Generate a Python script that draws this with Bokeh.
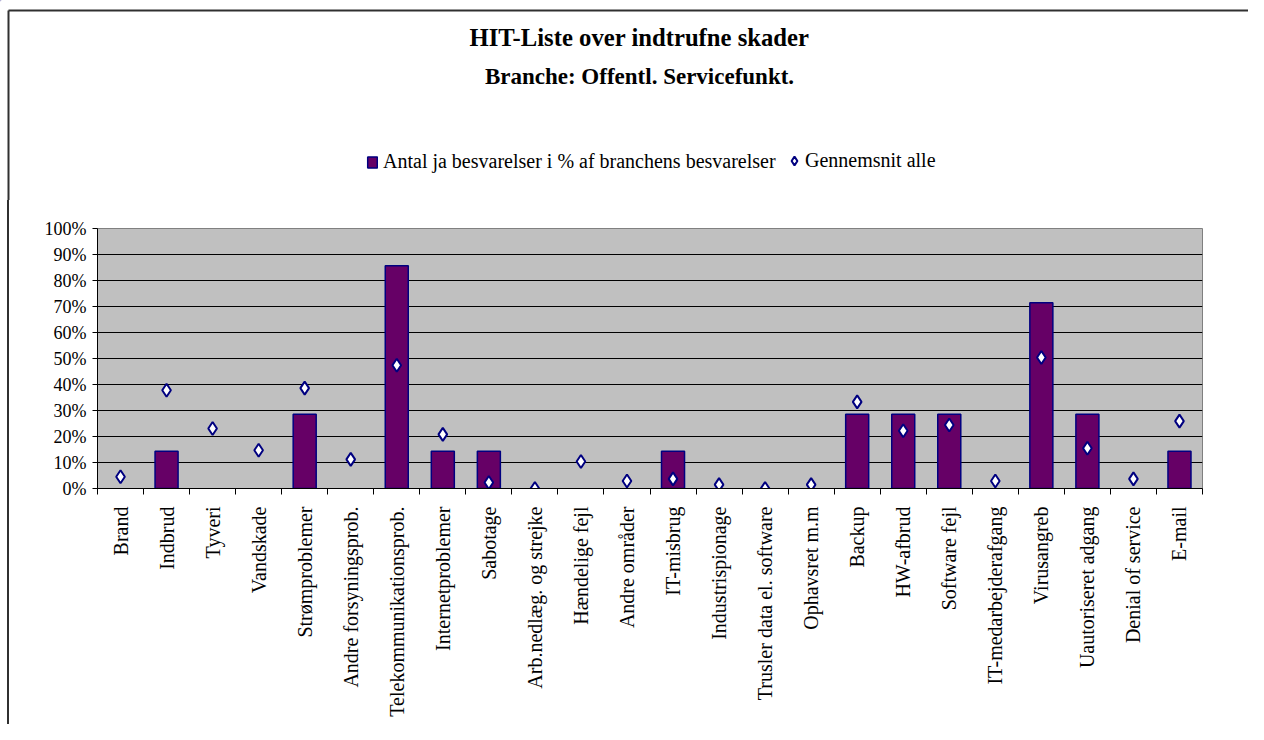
import math
from bokeh.plotting import figure
from bokeh.layouts import column
from bokeh.models import (ColumnDataSource, FixedTicker, PrintfTickFormatter, Label,
                          Legend, LegendItem, Range1d)
from bokeh.embed import file_html
from bokeh.resources import INLINE

categories = ["Brand", "Indbrud", "Tyveri", "Vandskade", "Strømproblemer",
              "Andre forsyningsprob.", "Telekommunikationsprob.", "Internetproblemer",
              "Sabotage", "Arb.nedlæg. og strejke", "Hændelige fejl", "Andre områder",
              "IT-misbrug", "Industrispionage", "Trusler data el. software", "Ophavsret m.m",
              "Backup", "HW-afbrud", "Software fejl", "IT-medarbejderafgang", "Virusangreb",
              "Uautoriseret adgang", "Denial of service", "E-mail"]
branch_pct = [0, 14.3, 0, 0, 28.6, 0, 85.7, 14.3, 14.3, 0, 0, 0, 14.3, 0, 0, 0,
              28.6, 28.6, 28.6, 0, 71.4, 28.6, 0, 14.3]
avg_pct = [4.5, 37.8, 23.1, 14.7, 38.6, 11.2, 47.4, 20.8, 2.3, 0.0, 10.4, 2.9,
           3.7, 1.5, 0.0, 1.5, 33.3, 22.2, 24.4, 2.9, 50.4, 15.5, 3.7, 25.9]
y_ticks = [0, 10, 20, 30, 40, 50, 60, 70, 80, 90, 100]
title_lines = ["HIT-Liste over indtrufne skader", "Branche: Offentl. Servicefunkt."]
legend_labels = ["Antal ja besvarelser i % af branchens besvarelser", "Gennemsnit alle"]

FONT = "Liberation Serif"
BAR_FILL, BAR_LINE = "#660066", "#000080"
EDGE = "#303030"
W, H = 1248, 724
HT = 200                      # header height (titles + legend)
TOP = 28                      # space above the plot frame in the chart figure
FL, FW, FH = 97, 1105, 260    # plot frame left / width / height

n = len(categories)
xs = list(range(n))
bar_src = ColumnDataSource(dict(
    x=[i for i in xs if branch_pct[i] > 0],
    top=[branch_pct[i] for i in xs if branch_pct[i] > 0]))
avg_src = ColumnDataSource(dict(x=xs, y=avg_pct))

# ---------------- header: titles + legend ----------------
hdr = figure(width=W, height=HT, output_backend="svg", toolbar_location=None,
             title_location=None, x_range=Range1d(0, W), y_range=Range1d(HT, 0),
             x_axis_type=None, y_axis_type=None,
             min_border=0, min_border_left=0, min_border_right=0,
             min_border_top=0, min_border_bottom=0)
hdr.outline_line_color = None
hdr.background_fill_alpha = 0
hdr.border_fill_alpha = 0
OFF = 0
try:
    hdr.frame_align = False       # keep the header frame over its whole canvas
except Exception:
    OFF = FL

# outer chart border (top edge and upper part of the left edge)
hdr.segment(x0=[8 - OFF, 8 - OFF], y0=[10, 10], x1=[W + 20, 8 - OFF], y1=[10, HT + 20],
            line_color=EDGE, line_width=2)

for txt, yc, fs in ((title_lines[0], 37, "24.7px"), (title_lines[1], 76, "23px")):
    hdr.add_layout(Label(x=639 - OFF, y=HT - yc, x_units="screen", y_units="screen",
                         text=txt, text_font=FONT, text_font_style="bold",
                         text_font_size=fs, text_align="center", text_baseline="middle",
                         text_color="black"))

# legend-only renderers (their single point lies outside the header's range)
dummy_bar = hdr.vbar(x=[-50], top=[-50], width=1, bottom=-60, fill_color=BAR_FILL,
                     line_color=BAR_LINE, line_width=1.5)
dummy_dot = hdr.scatter(x=[-50], y=[-50], marker="diamond", size=13, fill_color="white",
                        line_color=BAR_LINE, line_width=2)
common = dict(orientation="horizontal", padding=0, margin=0, spacing=0,
              border_line_color=None, background_fill_alpha=0,
              label_text_font=FONT, label_text_font_size="20px", label_text_color="black")
leg1 = Legend(items=[LegendItem(label=legend_labels[0], renderers=[dummy_bar])],
              location=(366 - OFF, HT - 173), glyph_width=12, glyph_height=14,
              label_standoff=5, **common)
leg2 = Legend(items=[LegendItem(label=legend_labels[1], renderers=[dummy_dot])],
              location=(783 - OFF, HT - 174), glyph_width=22, glyph_height=27,
              label_standoff=0, **common)
hdr.add_layout(leg1)
hdr.add_layout(leg2)

# ---------------- main chart ----------------
p = figure(width=W, height=H - HT, output_backend="svg", toolbar_location=None,
           title_location=None,
           x_range=Range1d(-0.5, n - 0.5), y_range=Range1d(0, 100),
           min_border_left=FL, min_border_top=TOP,
           min_border_right=W - FL - FW, min_border_bottom=H - HT - TOP - FH)
p.background_fill_color = "#C0C0C0"
p.border_fill_alpha = 0
p.outline_line_color = "#808080"
p.outline_line_width = 1
p.xgrid.visible = False
p.ygrid.ticker = FixedTicker(ticks=y_ticks)
p.ygrid.grid_line_color = "black"
p.ygrid.grid_line_width = 1
# left edge of the outer chart border, continued below the header
p.styles = {"background": f"linear-gradient({EDGE},{EDGE}) 7px 0 / 2px 100% no-repeat"}

p.vbar(x="x", top="top", width=0.5, source=bar_src,
       fill_color=BAR_FILL, line_color=BAR_LINE, line_width=1.5)
p.scatter(x="x", y="y", source=avg_src, marker="diamond", size=13,
          fill_color="white", line_color=BAR_LINE, line_width=2)

ya = p.yaxis[0]
ya.ticker = FixedTicker(ticks=y_ticks, minor_ticks=[])
ya.formatter = PrintfTickFormatter(format="%d%%")
ya.major_tick_out = 5
ya.major_tick_in = 0
ya.minor_tick_out = 0
ya.axis_line_color = "black"
ya.major_tick_line_color = "black"
ya.major_label_text_font = FONT
ya.major_label_text_font_size = "18px"
ya.major_label_text_color = "black"
ya.major_label_standoff = 6

xa = p.xaxis[0]
xa.ticker = FixedTicker(ticks=xs, minor_ticks=[i - 0.5 for i in range(n + 1)])
xa.major_label_overrides = {i: c for i, c in enumerate(categories)}
xa.major_tick_out = 0
xa.major_tick_in = 0
xa.minor_tick_out = 6
xa.minor_tick_in = 0
xa.minor_tick_line_color = "black"
xa.axis_line_color = "black"
xa.major_label_orientation = math.pi / 2
xa.major_label_text_font = FONT
xa.major_label_text_font_size = "20px"
xa.major_label_text_color = "black"
xa.major_label_standoff = 12

layout = column(hdr, p, spacing=0)
layout.styles = {"background": "white"}

open("out.html", "w").write(file_html(layout, INLINE))
